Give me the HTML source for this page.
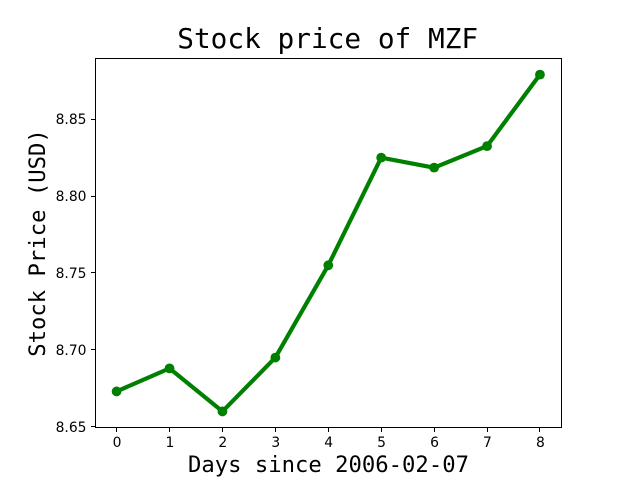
<!DOCTYPE html>
<html lang="en">
<head>
<meta charset="utf-8">
<title>Stock price of MZF</title>
<style>
html,body{margin:0;padding:0;background:#fff;}
svg{display:block;}
text{fill:#000;}
.mono{font-family:"DejaVu Sans Mono","Liberation Mono",monospace;}
.tick{font-family:"DejaVu Sans","Liberation Sans",sans-serif;font-size:13.89px;}
</style>
</head>
<body>
<svg id="chart" xmlns="http://www.w3.org/2000/svg" width="640" height="480" viewBox="0 0 640 480">
  <rect x="0" y="0" width="640" height="480" fill="#fff"/>
  <text class="mono" x="327.7" y="48" font-size="27.78" text-anchor="middle">Stock price of MZF</text>
  <text class="mono" x="328.5" y="472" font-size="22.22" text-anchor="middle">Days since 2006-02-07</text>
  <text class="mono" transform="translate(45,243) rotate(-90)" font-size="22.22" text-anchor="middle">Stock Price (USD)</text>
  <g id="ticks"></g>
  <g id="series"></g>
  <rect x="95.5" y="58.5" width="466" height="369" fill="none" stroke="#000" stroke-width="1"/>
</svg>
<script>
const days = [0, 1, 2, 3, 4, 5, 6, 7, 8];
const prices = [8.673, 8.688, 8.660, 8.695, 8.755, 8.825, 8.8185, 8.8325, 8.879];
const xTickLabels = ["0", "1", "2", "3", "4", "5", "6", "7", "8"];
const yTickLabels = ["8.65", "8.70", "8.75", "8.80", "8.85"];

const NS = "http://www.w3.org/2000/svg";
function xScale(d) { return 116.6 + d * 52.92; }
function yScale(v) { return 119.2 + (8.85 - v) * 1538; }
function snap(p) { return Math.floor(p) + 0.5; }
function make(tag, attrs) {
  const el = document.createElementNS(NS, tag);
  for (const k in attrs) el.setAttribute(k, attrs[k]);
  return el;
}

const ticks = document.getElementById("ticks");
xTickLabels.forEach(function (label) {
  const x = xScale(Number(label));
  const mark = make("line", { x1: snap(x), x2: snap(x), y1: 428, y2: 432, stroke: "#000", "stroke-width": 1 });
  
  
  ticks.appendChild(mark);
  const text = make("text", { x: x + 0.4, y: 447, "text-anchor": "middle", class: "tick" });
  
  
  text.textContent = label;
  ticks.appendChild(text);
});
yTickLabels.forEach(function (label) {
  const y = yScale(Number(label));
  const mark = make("line", { x1: 91, x2: 95, y1: snap(y), y2: snap(y), stroke: "#000", "stroke-width": 1 });
  
  
  ticks.appendChild(mark);
  const text = make("text", { x: 86.5, y: y + 5, "text-anchor": "end", class: "tick" });
  
  
  text.textContent = label;
  ticks.appendChild(text);
});

const series = document.getElementById("series");
const pointsAttr = days.map(function (d, i) { return xScale(d) + "," + yScale(prices[i]); }).join(" ");
const line = make("polyline", { points: pointsAttr, fill: "none", stroke: "#008000", "stroke-width": 4.17, "stroke-linejoin": "round", "stroke-linecap": "square" });


series.appendChild(line);
days.forEach(function (d, i) {
  const dot = make("circle", { cx: xScale(d), cy: yScale(prices[i]), r: 4.9, fill: "#008000" });
  
  
  series.appendChild(dot);
});
</script>
</body>
</html>
